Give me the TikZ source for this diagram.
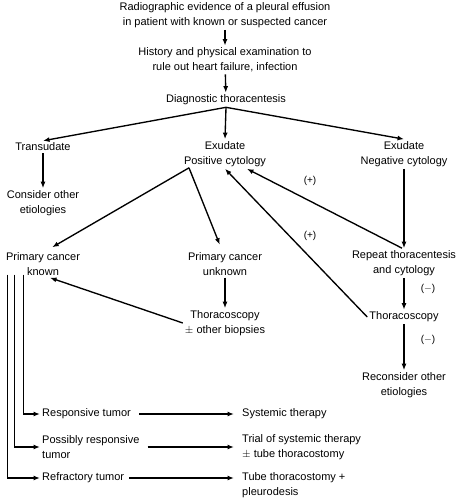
\documentclass[tikz,border=0pt]{standalone}
\usepackage{amsmath, amssymb, xcolor}
\usepackage{fontspec}
\setmainfont{Liberation Sans}
\usetikzlibrary{arrows.meta, positioning}
\tikzset{
  txt/.style = {align=center, font=\fontsize{11}{15}\selectfont, inner sep=2pt},
  ltxt/.style = {align=left, anchor=west, font=\fontsize{11}{15}\selectfont, inner sep=2pt},
  lbl/.style = {font=\fontsize{10}{12}\selectfont, inner sep=1pt},
  arr/.style = {-{Latex[length=6.5pt, width=5pt]}, line width=1.35pt}
}
\begin{document}
\begin{tikzpicture}[x=1pt, y=-1pt]
\useasboundingbox (0,0) rectangle (465,500);
% Top of the chart
\node[txt] (radio) at (225,15) {Radiographic evidence of a pleural effusion\\in patient with known or suspected cancer};
\node[txt] (hist) at (225,60) {History and physical examination to\\rule out heart failure, infection};
\node[txt] (diag) at (226,100) {Diagnostic thoracentesis};

% Three branches
\node[txt] (trans) at (43,147) {Transudate};
\node[txt] (expos) at (225,154) {Exudate\\Positive cytology};
\node[txt] (exneg) at (404,154) {Exudate\\Negative cytology};
\node[txt] (other1) at (43,203) {Consider other\\etiologies};

% Middle row
\node[txt] (known) at (43,264) {Primary cancer\\known};
\node[txt] (unknown) at (225,264) {Primary cancer\\unknown};
\node[txt] (thor1) at (225,323) {Thoracoscopy\\$\pm$ other biopsies};
\node[txt] (repeat) at (404,263) {Repeat thoracentesis\\and cytology};
\node[txt] (thor2) at (404,317) {Thoracoscopy};
\node[txt] (other2) at (404,385) {Reconsider other\\etiologies};

% Bottom rows
\node[ltxt] (resp) at (40,414) {Responsive tumor};
\node[ltxt] (poss) at (40,447) {Possibly responsive\\tumor};
\node[ltxt] (refr) at (40,478) {Refractory tumor};
\node[ltxt] (sys) at (240,414) {Systemic therapy};
\node[ltxt] (trial) at (240,447) {Trial of systemic therapy\\$\pm$ tube thoracostomy};
\node[ltxt] (tube) at (240,485.5) {Tube thoracostomy +\\pleurodesis};

% Signs on the arrows
\node[lbl] (plus1) at (310,181) {(+)};
\node[lbl] (plus2) at (310,236) {(+)};
\node[lbl] (minus1) at (428,289) {($-$)};
\node[lbl] (minus2) at (428,340) {($-$)};

% ----- ARROWS -----
\draw[arr] (radio) -- (hist);
\draw[arr] (hist) -- (diag);
\draw[arr] (diag.south) -- (trans.north);
\draw[arr] (diag.south) -- (expos.north);
\draw[arr] (diag.south) -- (exneg.north);
\draw[arr] (trans) -- (other1);
% Positive cytology
\coordinate (ps) at ([xshift=-36pt, yshift=1pt]expos.south);
\draw[arr, shorten >=6pt] (ps) -- ([xshift=4pt]known.north);
\draw[arr, shorten >=6pt] (ps) -- ([xshift=-3pt]unknown.north);
\draw[arr] (unknown) -- (thor1);
\draw[arr] (thor1.west) -- ([xshift=7pt]known.south);
% Negative cytology
\draw[arr] (exneg) -- (repeat);
\draw[arr] (repeat) -- (thor2);
\draw[arr] (thor2) -- (other2);
\draw[arr] ([xshift=-2pt]repeat.north) -- ([xshift=22pt]expos.south);
\draw[arr] (thor2.west) -- (expos.south);
% Primary cancer known
\draw[arr] ([xshift=20pt, yshift=3pt]known.south west) |- (resp.west);
\draw[arr] ([xshift=11pt, yshift=3pt]known.south west) |- (poss.west);
\draw[arr] ([xshift=4pt, yshift=3pt]known.south west) |- (refr.west);
\draw[arr, shorten <=6pt, shorten >=6pt] (resp) -- (sys);
\draw[arr, shorten <=6pt, shorten >=6pt] (poss.east) -- (trial.west);
\draw[arr, shorten <=3pt, shorten >=6pt] (refr.east) -- (refr.east -| tube.west);
\end{tikzpicture}
\end{document}
